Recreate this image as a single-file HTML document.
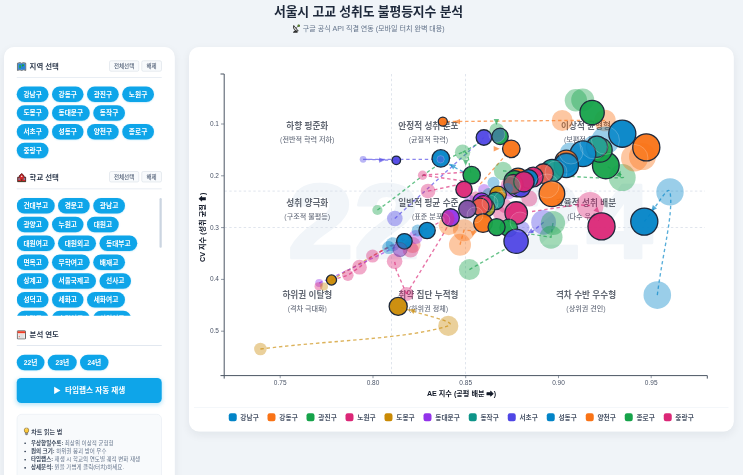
<!DOCTYPE html>
<html lang="ko">
<head>
<meta charset="utf-8">
<title>서울시 고교 성취도 불평등지수 분석</title>
<style>
*{box-sizing:border-box;margin:0;padding:0}
html,body{width:743px;height:475px;overflow:hidden;background:#f0f4f8}
body{font-family:"Liberation Sans","Noto Sans CJK KR","NanumGothic","DejaVu Sans",sans-serif;color:#1e293b;position:relative}
h1{position:absolute;left:0;width:2948px;top:0;height:88px;line-height:88px;text-align:center;font-size:51.4px;font-weight:700;letter-spacing:-0.52px;color:#1e293b}
.sub{position:absolute;left:0;width:2948px;top:94px;height:40px;line-height:40px;text-align:center;font-size:28.2px;color:#64748b}
#sc{position:absolute;left:0;top:0;width:2972px;height:1900px;transform:scale(.25);transform-origin:0 0}
#zm{position:relative;width:2972px;height:1900px}
.side{position:absolute;left:16px;top:188px;width:682.8px;height:1840px;background:#fff;border-radius:40px;box-shadow:0 12px 40px rgba(15,23,42,.065)}
.main{position:absolute;left:756px;top:188px;width:2178.8px;height:1538px;background:#fff;border-radius:40px;box-shadow:0 12px 40px rgba(15,23,42,.065)}
.hd{position:absolute;left:51.2px;right:52px;height:48px;border-bottom:0}
.hd b{position:absolute;left:0;top:0.8px;font-size:29.6px;line-height:48px;font-weight:700;color:#2f3b4e;white-space:nowrap}
.hd b em{font-style:normal;display:inline-block;width:51.2px;height:32px;position:relative;vertical-align:top}
.ic{position:absolute;display:block}
.info h4 em{font-style:normal;display:inline-block;width:30px;height:32px;position:relative;vertical-align:top}
.btn{position:absolute;top:0;height:44px;border:2.4px solid #d3dae3;border-radius:7.2px;background:#f8fafc;font-size:22px;line-height:39.2px;text-align:center;color:#526077;font-weight:500}
.sep{position:absolute;left:51.2px;right:52px;height:3.2px;background:#e2e8f0}
.rows{position:absolute;left:51.2px;width:584px}
.row{height:75.2px;white-space:nowrap;display:flex;gap:13.8px}
.chip{display:block;height:62px;line-height:62px;padding:0 26.4px;border-radius:32px;background:#0ea5e9;color:#fff;font-size:26.8px;font-weight:700;box-shadow:0 2px 6px rgba(14,165,233,.3)}
.scroll{position:absolute;left:51.2px;top:596px;width:584px;height:479.2px;overflow:hidden}
.thumb{position:absolute;left:621.6px;top:604px;width:9.2px;height:198.8px;border-radius:4.8px;background:#cbd5e1}
.play{position:absolute;left:51.2px;top:1324px;width:579.6px;height:99.6px;border-radius:18px;background:#0ea5e9;color:#fff;font-size:30.4px;font-weight:700;line-height:99.6px;text-align:center;box-shadow:0 6px 16px rgba(14,165,233,.3)}
.info{position:absolute;left:51.2px;top:1468px;width:579.6px;height:360px;border-radius:20px;background:#f8fafc;border:2.4px solid #e2e8f0}
.info h4{position:absolute;left:26px;top:50.8px;font-size:24px;line-height:36px;font-weight:700;color:#3f4a5c;white-space:nowrap}
.info ul{position:absolute;left:54.4px;top:98px;list-style:none}
.info li{font-size:22.12px;line-height:32.8px;color:#64748b;white-space:nowrap;position:relative}
.info li:before{content:"";position:absolute;left:-26.4px;top:14px;width:6.4px;height:6.4px;border-radius:50%;background:#334155}
.info li b{color:#334155}
.chart{position:absolute;left:0;top:0}
.chart text{font-family:"Liberation Sans","Noto Sans CJK KR","NanumGothic","DejaVu Sans",sans-serif}
.wm{font-size:105.4px;font-weight:700;fill:#f1f5f9;stroke:#f1f5f9;stroke-width:2.6px;stroke-linejoin:round}
.guide{stroke:#d8dee8;stroke-width:.8;stroke-dasharray:2.4 2.4}
.ql{font-size:8.6px;font-weight:700;fill:#626873}
.qs{font-size:7.1px;font-weight:500;fill:#6b7280}
.axis{fill:none;stroke:#4b5563;stroke-width:1}
.tick{stroke:#475569;stroke-width:.6}
.tl{font-size:6.5px;fill:#4b5568}
.at{font-size:7.15px;font-weight:700;fill:#111827}
.ar{stroke:#111827;stroke-width:.55px;stroke-linejoin:round}
.legend{position:absolute;left:776.4px;top:1628.8px;width:2137.2px;height:76px;border-top:2.4px solid #e8eef4;display:flex;justify-content:center;align-items:center;gap:35.2px;padding-top:1.6px}
.lg{display:flex;align-items:center;font-size:26.8px;font-weight:700;color:#4b5669;white-space:nowrap}
.lg i{display:block;width:32px;height:32px;border-radius:8.8px;margin-right:14.8px}
</style>
</head>
<body>
<div id="sc"><div id="zm">
<h1>서울시 고교 성취도 불평등지수 분석</h1>
<div class="sub"><svg class="ic" viewBox="0 0 20 22" style="position:static;display:inline-block;vertical-align:-9.6px;width:33.6px;height:37.2px;margin-right:8px"><path d="M1.500 21h11.500l-1.500-4.500H4z" fill="#2b2b2b"/><path d="M5 17l3.500-7 3 1.500-2.500 6z" fill="#444"/><path d="M3.500 3.500c-2 4.800.400 10.400 5.200 12.600 1.800.8 3.800 1 5.600.500z" fill="#cfcfcf" stroke="#262626" stroke-width="2" stroke-linejoin="round"/><path d="M9 9.800l5.200-5" stroke="#333" stroke-width="1.500"/><circle cx="15.400" cy="3.800" r="2.900" fill="#2f4f0f"/><circle cx="15.600" cy="3.600" r="1.400" fill="#6fae2c"/></svg>구글 공식 API 직결 연동 (모바일 터치 완벽 대응)</div>

<div class="side">
  <div class="hd" style="top:53.6px"><b><em><svg class="ic" viewBox="0 0 20 20" style="left:0;top:4.8px;width:39.2px;height:39.2px"><path d="M1.2 3.2 L6.6 1.8 L10 3.2 L13.4 1.8 L18.8 3.2 V17.6 L13.4 16.4 L10 17.8 L6.6 16.4 L1.2 17.6 Z" fill="#5aa6e6" stroke="#666" stroke-width="1.9" stroke-linejoin="round"/><path d="M3.4 4.6h13.2v10.8H3.4z" fill="#2583dc"/><path d="M5 7.5c1.5-2 3.5-1 3.2.8-.3 1.8 1 2.4.2 4.2-1 1.6-3.6.2-3.4-2z" fill="#1fae3c"/><path d="M10.5 6.2c2-1.2 4.5-.4 4.6 1.6-.4 1.6-2.4 1-3.2 2.4-.8-.8-1.8-2.4-1.4-4z" fill="#19a534"/><path d="M6.6 2.4v14M13.4 2.4v14" stroke="#5d7f9a" stroke-width=".6" opacity=".6"/></svg></em>지역 선택</b><span class="btn" style="left:370px;width:118.4px">전체선택</span><span class="btn" style="left:498.4px;width:81.2px">해제</span></div>
  <div class="sep" style="top:120.8px"></div>
  <div class="rows" style="top:157.6px">
<div class="row"><span class="chip">강남구</span><span class="chip">강동구</span><span class="chip">광진구</span><span class="chip">노원구</span></div>
<div class="row"><span class="chip">도봉구</span><span class="chip">동대문구</span><span class="chip">동작구</span></div>
<div class="row"><span class="chip">서초구</span><span class="chip">성동구</span><span class="chip">양천구</span><span class="chip">종로구</span></div>
<div class="row"><span class="chip">중랑구</span></div>
  </div>
  <div class="hd" style="top:496.8px"><b><em><svg class="ic" viewBox="0 0 20 20" style="left:0.8px;top:6.4px;width:37.6px;height:37.6px"><path d="M10 1 L15 6 V9 H18.6 V18.4 H1.4 V9 H5 V6 Z" fill="#d3262c" stroke="#2e1b19" stroke-width="1.7" stroke-linejoin="round"/><path d="M10 1.2 L15.4 6.4 H4.6 Z" fill="#a71d22"/><circle cx="10" cy="7" r="1.7" fill="#f6e9d8"/><rect x="8.6" y="12.6" width="2.8" height="5.4" fill="#6e3b1f"/><rect x="3.2" y="11.4" width="2.6" height="2.8" fill="#4cc3f3"/><rect x="14.2" y="11.4" width="2.6" height="2.8" fill="#4cc3f3"/><rect x="1" y="18" width="18" height="1.4" fill="#3f4a2a"/></svg></em>학교 선택</b><span class="btn" style="left:370px;width:118.4px">전체선택</span><span class="btn" style="left:498.4px;width:81.2px">해제</span></div>
  <div class="sep" style="top:566px"></div>
  <div class="scroll"><div style="padding-top:8px">
<div class="row"><span class="chip">건대부고</span><span class="chip">경문고</span><span class="chip">광남고</span></div>
<div class="row"><span class="chip">광양고</span><span class="chip">누원고</span><span class="chip">대원고</span></div>
<div class="row"><span class="chip">대원여고</span><span class="chip">대원외고</span><span class="chip">동대부고</span></div>
<div class="row"><span class="chip">면목고</span><span class="chip">무학여고</span><span class="chip">배재고</span></div>
<div class="row"><span class="chip">상계고</span><span class="chip">서울국제고</span><span class="chip">선사고</span></div>
<div class="row"><span class="chip">성덕고</span><span class="chip">세화고</span><span class="chip">세화여고</span></div>
<div class="row"><span class="chip">수락고</span><span class="chip">숙명여고</span><span class="chip">신일여고</span></div>
<div class="row"><span class="chip">양정고</span><span class="chip">영동고</span><span class="chip">용화여고</span></div>
  </div></div>
  <div class="thumb"></div>
  <div class="hd" style="top:1125.6px"><b><em><svg class="ic" viewBox="0 0 20 20" style="left:0;top:6.4px;width:37.2px;height:37.2px"><rect x="1" y="1" width="18" height="18" rx="1.6" fill="#f1f1f1" stroke="#4d4d4d" stroke-width="2"/><path d="M1.9 1.9h16.2v4.6H1.9z" fill="#ef3b24"/><path d="M1.9 6.5h16.2v1.2H1.9z" fill="#fbd2c8"/><path d="M4 9.6h12M4 12.4h12M4 15.2h12M7 8v9M10 8v9M13 8v9" stroke="#d4d4d4" stroke-width=".9"/><rect x="4.2" y="12.8" width="2.6" height="2" fill="#ef6b57"/></svg></em>분석 연도</b></div>
  <div class="sep" style="top:1192.4px"></div>
  <div class="rows" style="top:1230.8px"><div class="row"><span class="chip" style="width:110.4px;padding:0;text-align:center">22년</span><span class="chip" style="width:115.2px;padding:0;text-align:center">23년</span><span class="chip" style="width:113.6px;padding:0;text-align:center">24년</span></div></div>
  <div class="play">▶&nbsp; 타임랩스 자동 재생</div>
  <div class="info">
    <h4><em><svg class="ic" viewBox="0 0 14 20" style="left:0;top:1.2px;width:22px;height:31.6px"><path d="M7 1C3.4 1 1 3.6 1 6.8c0 2.2 1.2 3.6 2.2 4.8.6.8.8 1.6.8 2.6h6c0-1 .2-1.800.8-2.600C11.800 10.400 13 9 13 6.800 13 3.600 10.600 1 7 1z" fill="#fcc93c" stroke="#5f4a1c" stroke-width="1.6"/><path d="M4.6 4.400c.8-1 2-1.400 3-1.400" stroke="#fff3c0" stroke-width="1.2" fill="none" stroke-linecap="round"/><rect x="4" y="14.400" width="6" height="3.600" rx=".8" fill="#9aa0a6" stroke="#555" stroke-width=".9"/><rect x="5.200" y="18" width="3.600" height="1.500" rx=".6" fill="#555"/></svg></em>차트 읽는 법</h4>
    <ul>
      <li><b>우상향일수록:</b> 최상위 이상적 균형형</li>
      <li><b>원의 크기:</b> 하위권 붕괴 방어 우수</li>
      <li><b>타임랩스:</b> 재생 시 학교의 연도별 궤적 변화 재생</li>
      <li><b>상세분석:</b> 원을 가볍게 클릭(터치)하세요.</li>
    </ul>
  </div>
</div>

<div class="main"></div>
<svg class="chart" width="2972" height="1900" viewBox="0 0 743 475">
<text class="wm" transform="translate(287.6 257.6) scale(1.13 1)" x="0" y="0">22</text>
<text class="wm" transform="translate(469.5 250.5) scale(1.13 1)" x="0" y="0" text-anchor="middle">-</text>
<text class="wm" transform="translate(515 257.6) scale(1.13 1)" x="0" y="0">2<tspan dx="4.4">4</tspan></text>
<line x1="391.5" y1="74" x2="391.5" y2="375.5" class="guide"/>
<line x1="465.5" y1="74" x2="465.5" y2="375.5" class="guide"/>
<line x1="224.5" y1="191.1" x2="705" y2="191.1" class="guide"/>
<line x1="224.5" y1="227.5" x2="705" y2="227.5" class="guide"/>
<text class="ql" x="307.3" y="128.9" text-anchor="middle">하향 평준화</text>
<text class="qs" x="307.3" y="142.2" text-anchor="middle">(전반적 학력 저하)</text>
<text class="ql" x="428.4" y="128.9" text-anchor="middle">안정적 성취 분포</text>
<text class="qs" x="428.4" y="142.2" text-anchor="middle">(균질적 학력)</text>
<text class="ql" x="586" y="128.9" text-anchor="middle">이상적 균형형</text>
<text class="qs" x="583.6" y="142.2" text-anchor="middle">(보편적 우수)</text>
<text class="ql" x="307.3" y="205.79999999999998" text-anchor="middle">성취 양극화</text>
<text class="qs" x="307.3" y="219.1" text-anchor="middle">(구조적 불평등)</text>
<text class="ql" x="428.4" y="205.79999999999998" text-anchor="middle">일반적 평균 수준</text>
<text class="qs" x="428.4" y="219.1" text-anchor="middle">(표준 분포)</text>
<text class="ql" x="586" y="205.79999999999998" text-anchor="middle">효율적 성취 배분</text>
<text class="qs" x="583.6" y="219.1" text-anchor="middle">(다수 우수)</text>
<text class="ql" x="307.3" y="297.5" text-anchor="middle">하위권 이탈형</text>
<text class="qs" x="307.3" y="310.8" text-anchor="middle">(격차 극대화)</text>
<text class="ql" x="428.4" y="297.5" text-anchor="middle">취약 집단 누적형</text>
<text class="qs" x="428.4" y="310.8" text-anchor="middle">(하위권 정체)</text>
<text class="ql" x="586" y="297.5" text-anchor="middle">격차 수반 우수형</text>
<text class="qs" x="586" y="310.8" text-anchor="middle">(상위권 견인)</text>
<path class="axis" d="M220.5 74 H224.2 V375.6 M220.5 375.6 H707.3 V378.6 M224.2 375.6 V378.6"/>
<line class="tick" x1="221" y1="124.0" x2="224" y2="124.0"/>
<text class="tl" x="219" y="126.0" text-anchor="end">0.1</text>
<line class="tick" x1="221" y1="175.8" x2="224" y2="175.8"/>
<text class="tl" x="219" y="177.8" text-anchor="end">0.2</text>
<line class="tick" x1="221" y1="227.6" x2="224" y2="227.6"/>
<text class="tl" x="219" y="229.6" text-anchor="end">0.3</text>
<line class="tick" x1="221" y1="279.4" x2="224" y2="279.4"/>
<text class="tl" x="219" y="281.4" text-anchor="end">0.4</text>
<line class="tick" x1="221" y1="331.2" x2="224" y2="331.2"/>
<text class="tl" x="219" y="333.2" text-anchor="end">0.5</text>
<line class="tick" x1="280.2" y1="375.6" x2="280.2" y2="378.2"/>
<text class="tl" x="280.2" y="384.8" text-anchor="middle">0.75</text>
<line class="tick" x1="373.0" y1="375.6" x2="373.0" y2="378.2"/>
<text class="tl" x="373.0" y="384.8" text-anchor="middle">0.80</text>
<line class="tick" x1="465.7" y1="375.6" x2="465.7" y2="378.2"/>
<text class="tl" x="465.7" y="384.8" text-anchor="middle">0.85</text>
<line class="tick" x1="558.5" y1="375.6" x2="558.5" y2="378.2"/>
<text class="tl" x="558.5" y="384.8" text-anchor="middle">0.90</text>
<line class="tick" x1="651.2" y1="375.6" x2="651.2" y2="378.2"/>
<text class="tl" x="651.2" y="384.8" text-anchor="middle">0.95</text>
<text class="at" x="461.5" y="396.3" text-anchor="middle">AE 지수 (공평 배분 <tspan class="ar">➡</tspan>)</text>
<text class="at" transform="translate(205.4 227.3) rotate(-90)" text-anchor="middle">CV 지수 (성취 균질 <tspan class="ar">⬆</tspan>)</text>
<g class="bub">
<defs><clipPath id="solidclip"><circle cx="398.2" cy="306.4" r="8.50"/><circle cx="331.5" cy="280" r="4.50"/><circle cx="396.3" cy="160.3" r="3.70"/><circle cx="440.8" cy="158.4" r="8.20"/><circle cx="442.8" cy="121.6" r="4.00"/><circle cx="592.1" cy="112.5" r="11.60"/><circle cx="500.1" cy="136.4" r="7.60"/><circle cx="483.9" cy="137.5" r="7.20"/><circle cx="511.3" cy="148.8" r="8.20"/><circle cx="471.7" cy="175.1" r="8.10"/><circle cx="464" cy="189.4" r="7.60"/><circle cx="622.3" cy="133.7" r="13.00"/><circle cx="646.3" cy="147.4" r="13.00"/><circle cx="605.8" cy="165.4" r="12.80"/><circle cx="600" cy="150" r="11.60"/><circle cx="597" cy="146.8" r="10.10"/><circle cx="583" cy="153.8" r="12.30"/><circle cx="566.3" cy="161.4" r="10.80"/><circle cx="566.3" cy="165.4" r="11.60"/><circle cx="518" cy="178.3" r="9.60"/><circle cx="514.5" cy="181" r="9.80"/><circle cx="517" cy="186.8" r="9.40"/><circle cx="521" cy="187.5" r="9.00"/><circle cx="552.1" cy="170.8" r="10.80"/><circle cx="543.5" cy="173.6" r="9.30"/><circle cx="533.3" cy="177" r="9.30"/><circle cx="528.6" cy="179" r="8.80"/><circle cx="513.5" cy="184" r="9.10"/><circle cx="523.9" cy="181.7" r="9.60"/><circle cx="551.9" cy="193.8" r="12.30"/><circle cx="516.2" cy="213" r="10.70"/><circle cx="498" cy="194.5" r="7.80"/><circle cx="495.6" cy="200.8" r="8.20"/><circle cx="481.5" cy="201.5" r="8.10"/><circle cx="486" cy="208" r="8.40"/><circle cx="483.5" cy="204.3" r="8.20"/><circle cx="480.3" cy="206.8" r="8.20"/><circle cx="467.4" cy="209" r="8.20"/><circle cx="450.6" cy="217.5" r="8.20"/><circle cx="483" cy="223.1" r="8.80"/><circle cx="508.7" cy="227.8" r="8.20"/><circle cx="496.6" cy="227.1" r="8.00"/><circle cx="516.1" cy="241.3" r="11.60"/><circle cx="427.1" cy="230.5" r="7.60"/><circle cx="404.4" cy="241.3" r="7.20"/><circle cx="601.5" cy="226.4" r="13.00"/><circle cx="644.3" cy="221.6" r="13.00"/></clipPath></defs>
<path d="M260.4 349.0 C335.6 339.8 405.4 339.2 448.3 325.9 C460.5 322.1 418.2 314.2 398.2 306.4" fill="none" stroke="#ca8a04" stroke-opacity="0.66" stroke-width="1.35" stroke-dasharray="3.4 2.8"/>
<path d="M331.5 280.0 L388.0 247.0" fill="none" stroke="#ca8a04" stroke-opacity="0.66" stroke-width="1.35" stroke-dasharray="3.4 2.8"/>
<path d="M440.6 159.3 L363.1 159.3 L396.3 160.3" fill="none" stroke="#4f46e5" stroke-opacity="0.66" stroke-width="1.35" stroke-dasharray="3.4 2.8"/>
<path d="M604.9 120.5 L562.2 120.5 L442.8 121.6" fill="none" stroke="#f97316" stroke-opacity="0.66" stroke-width="1.35" stroke-dasharray="3.4 2.8"/>
<path d="M394.8 218.5 L483.9 137.5" fill="none" stroke="#4f46e5" stroke-opacity="0.66" stroke-width="1.35" stroke-dasharray="3.4 2.8"/>
<path d="M377.4 210.0 C411.5 186.9 432.1 163.6 462.6 152.3 C469.9 149.6 468.1 166.0 471.7 175.1" fill="none" stroke="#16a34a" stroke-opacity="0.66" stroke-width="1.35" stroke-dasharray="3.4 2.8"/>
<path d="M462.6 152.3 L483.0 141.0" fill="none" stroke="#16a34a" stroke-opacity="0.66" stroke-width="1.35" stroke-dasharray="3.4 2.8"/>
<path d="M422.6 175.2 L464.0 172.2" fill="none" stroke="#db2777" stroke-opacity="0.66" stroke-width="1.35" stroke-dasharray="3.4 2.8"/>
<path d="M422.6 175.2 L464.0 181.0" fill="none" stroke="#db2777" stroke-opacity="0.66" stroke-width="1.35" stroke-dasharray="3.4 2.8"/>
<path d="M428.0 191.1 L466.0 183.0" fill="none" stroke="#db2777" stroke-opacity="0.66" stroke-width="1.35" stroke-dasharray="3.4 2.8"/>
<path d="M657.3 295.1 C662.4 253.8 673.8 213.2 670.0 191.9 C668.6 183.8 654.6 209.7 644.3 221.6" fill="none" stroke="#0284c7" stroke-opacity="0.66" stroke-width="1.35" stroke-dasharray="3.4 2.8"/>
<path d="M469.4 269.6 L508.7 247.0" fill="none" stroke="#16a34a" stroke-opacity="0.66" stroke-width="1.35" stroke-dasharray="3.4 2.8"/>
<path d="M503.0 170.9 C550.7 173.6 587.1 179.5 622.2 177.6 C628.2 177.3 612.4 170.3 605.8 165.4" fill="none" stroke="#16a34a" stroke-opacity="0.66" stroke-width="1.35" stroke-dasharray="3.4 2.8"/>
<path d="M406.5 294.0 L396.2 270.0 L394.6 261.3" fill="none" stroke="#db2777" stroke-opacity="0.66" stroke-width="1.35" stroke-dasharray="3.4 2.8"/>
<path d="M406.5 294.0 L440.6 238.7 L450.0 222.0" fill="none" stroke="#db2777" stroke-opacity="0.66" stroke-width="1.35" stroke-dasharray="3.4 2.8"/>
<path d="M331.5 280.0 L347.9 275.3 L359.5 267.2 L372.6 256.1 L404.0 238.0" fill="none" stroke="#db2777" stroke-opacity="0.66" stroke-width="1.35" stroke-dasharray="3.4 2.8"/>
<path d="M319.2 283.0 L331.5 278.0 L399.8 245.0" fill="none" stroke="#9333ea" stroke-opacity="0.66" stroke-width="1.35" stroke-dasharray="3.4 2.8"/>
<path d="M380.0 252.0 L440.0 222.0" fill="none" stroke="#db2777" stroke-opacity="0.66" stroke-width="1.35" stroke-dasharray="3.4 2.8"/>
<path d="M532.0 211.5 L576.6 204.8 L590.1 205.5" fill="none" stroke="#db2777" stroke-opacity="0.66" stroke-width="1.35" stroke-dasharray="3.4 2.8"/>
<path d="M511.0 149.0 L484.8 179.0 L478.0 186.4" fill="none" stroke="#f97316" stroke-opacity="0.66" stroke-width="1.35" stroke-dasharray="3.4 2.8"/>
<path d="M463.0 171.6 L448.0 164.0" fill="none" stroke="#0284c7" stroke-opacity="0.66" stroke-width="1.35" stroke-dasharray="3.4 2.8"/>
<path d="M460.0 244.7 L464.0 230.2 L476.0 231.0" fill="none" stroke="#f97316" stroke-opacity="0.66" stroke-width="1.35" stroke-dasharray="3.4 2.8"/>
<path d="M543.6 222.3 L527.0 236.0" fill="none" stroke="#4f46e5" stroke-opacity="0.66" stroke-width="1.35" stroke-dasharray="3.4 2.8"/>
<path d="M553.0 223.0 L551.0 237.2 L530.0 234.0" fill="none" stroke="#16a34a" stroke-opacity="0.66" stroke-width="1.35" stroke-dasharray="3.4 2.8"/>
<circle cx="260.4" cy="349" r="6.3" fill="#ca8a04" fill-opacity="0.4"/>
<circle cx="448.3" cy="325.9" r="10.1" fill="#ca8a04" fill-opacity="0.4"/>
<circle cx="363.1" cy="159.3" r="3.4" fill="#4f46e5" fill-opacity="0.4"/>
<circle cx="562.2" cy="120.5" r="10.5" fill="#f97316" fill-opacity="0.4"/>
<circle cx="604.9" cy="120.5" r="10.8" fill="#f97316" fill-opacity="0.4"/>
<circle cx="575.9" cy="100.3" r="11.2" fill="#16a34a" fill-opacity="0.4"/>
<circle cx="582.7" cy="99.9" r="11.5" fill="#16a34a" fill-opacity="0.4"/>
<circle cx="496.7" cy="130.3" r="7.4" fill="#16a34a" fill-opacity="0.4"/>
<circle cx="462.6" cy="152.3" r="7.7" fill="#16a34a" fill-opacity="0.4"/>
<circle cx="377.4" cy="210" r="5.1" fill="#16a34a" fill-opacity="0.4"/>
<circle cx="422.6" cy="175.2" r="4.7" fill="#db2777" fill-opacity="0.4"/>
<circle cx="428" cy="191.1" r="7.4" fill="#db2777" fill-opacity="0.4"/>
<circle cx="503" cy="170.9" r="9.2" fill="#16a34a" fill-opacity="0.4"/>
<circle cx="590.1" cy="205.5" r="13.5" fill="#db2777" fill-opacity="0.4"/>
<circle cx="543.6" cy="222.3" r="12.4" fill="#4f46e5" fill-opacity="0.4"/>
<circle cx="553" cy="223" r="12.1" fill="#16a34a" fill-opacity="0.4"/>
<circle cx="551" cy="237.2" r="11.5" fill="#16a34a" fill-opacity="0.4"/>
<circle cx="622.2" cy="177.6" r="13.5" fill="#16a34a" fill-opacity="0.4"/>
<circle cx="670" cy="191.9" r="13.7" fill="#0284c7" fill-opacity="0.4"/>
<circle cx="657.3" cy="295.1" r="13.8" fill="#0284c7" fill-opacity="0.4"/>
<circle cx="634.5" cy="158" r="13.5" fill="#f97316" fill-opacity="0.4"/>
<circle cx="642.5" cy="156.6" r="13.5" fill="#f97316" fill-opacity="0.4"/>
<circle cx="460" cy="244.7" r="11" fill="#f97316" fill-opacity="0.4"/>
<circle cx="464" cy="230.2" r="11" fill="#f97316" fill-opacity="0.4"/>
<circle cx="469.4" cy="269.6" r="10.5" fill="#16a34a" fill-opacity="0.4"/>
<circle cx="406.5" cy="294" r="7" fill="#db2777" fill-opacity="0.4"/>
<circle cx="394.6" cy="261.3" r="7.8" fill="#db2777" fill-opacity="0.4"/>
<circle cx="347.9" cy="275.3" r="5.7" fill="#db2777" fill-opacity="0.4"/>
<circle cx="359.5" cy="267.2" r="7.4" fill="#db2777" fill-opacity="0.4"/>
<circle cx="372.6" cy="256.1" r="6.5" fill="#db2777" fill-opacity="0.4"/>
<circle cx="388.7" cy="247.6" r="6.5" fill="#0284c7" fill-opacity="0.4"/>
<circle cx="392.8" cy="244.3" r="7" fill="#0284c7" fill-opacity="0.4"/>
<circle cx="399.8" cy="249.6" r="7.5" fill="#9333ea" fill-opacity="0.4"/>
<circle cx="394.8" cy="218.5" r="7.8" fill="#4f46e5" fill-opacity="0.4"/>
<circle cx="412.6" cy="245" r="8" fill="#ea5a4a" fill-opacity="0.4"/>
<circle cx="410.6" cy="249.6" r="8" fill="#db2777" fill-opacity="0.4"/>
<circle cx="415.7" cy="237" r="7" fill="#9333ea" fill-opacity="0.4"/>
<circle cx="417.7" cy="230.6" r="6" fill="#0284c7" fill-opacity="0.4"/>
<circle cx="319.2" cy="283" r="4" fill="#9333ea" fill-opacity="0.4"/>
<circle cx="318.5" cy="286.3" r="4" fill="#db2777" fill-opacity="0.4"/>
<circle cx="324" cy="286.5" r="4" fill="#ca8a04" fill-opacity="0.4"/>
<circle cx="529.3" cy="198.5" r="8" fill="#db2777" fill-opacity="0.4"/>
<circle cx="523" cy="228" r="6.5" fill="#4f46e5" fill-opacity="0.4"/>
<circle cx="605.5" cy="140.4" r="14" fill="#0284c7" fill-opacity="0.4"/>
<circle cx="595" cy="149.8" r="14.5" fill="#0284c7" fill-opacity="0.4"/>
<circle cx="570.5" cy="153.1" r="10.7" fill="#0284c7" fill-opacity="0.4"/>
<circle cx="510.4" cy="186.4" r="10" fill="#db2777" fill-opacity="0.4"/>
<circle cx="448.7" cy="225.2" r="10" fill="#f97316" fill-opacity="0.4"/>
<circle cx="515" cy="185" r="10.5" fill="#16a34a" fill-opacity="0.4"/>
<circle cx="508" cy="191" r="8.5" fill="#9333ea" fill-opacity="0.4"/>
<circle cx="493.5" cy="182.7" r="6" fill="#0284c7" fill-opacity="0.4"/>
<circle cx="500" cy="213.7" r="7" fill="#db2777" fill-opacity="0.4"/>
<circle cx="484" cy="190" r="6" fill="#9333ea" fill-opacity="0.4"/>
<circle cx="505" cy="206" r="7" fill="#db2777" fill-opacity="0.4"/>
<circle cx="489" cy="195" r="7" fill="#0d9488" fill-opacity="0.4"/>
<circle cx="476" cy="198" r="6.5" fill="#db2777" fill-opacity="0.4"/>
<circle cx="470" cy="201" r="6" fill="#9333ea" fill-opacity="0.4"/>
<path d="M3 0 L-3 -2.7 L-3 2.7 Z" transform="translate(411.7 310.4) rotate(201)" fill="#ca8a04" fill-opacity="0.66"/>
<path d="M3 0 L-3 -2.7 L-3 2.7 Z" transform="translate(382.1 160.1) rotate(0)" fill="#4f46e5" fill-opacity="0.66"/>
<path d="M3 0 L-3 -2.7 L-3 2.7 Z" transform="translate(457 121.6) rotate(180)" fill="#f97316" fill-opacity="0.66"/>
<path d="M3 0 L-3 -2.7 L-3 2.7 Z" transform="translate(496.7 148.8) rotate(0)" fill="#f97316" fill-opacity="0.66"/>
<path d="M3 0 L-3 -2.7 L-3 2.7 Z" transform="translate(496.4 122) rotate(90)" fill="#16a34a" fill-opacity="0.66"/>
<path d="M3 0 L-3 -2.7 L-3 2.7 Z" transform="translate(465.7 162.8) rotate(90)" fill="#16a34a" fill-opacity="0.66"/>
<path d="M3 0 L-3 -2.7 L-3 2.7 Z" transform="translate(452.2 165.5) rotate(215)" fill="#0284c7" fill-opacity="0.66"/>
<path d="M3 0 L-3 -2.7 L-3 2.7 Z" transform="translate(653 209) rotate(130)" fill="#0284c7" fill-opacity="0.66"/>
<path d="M3 0 L-3 -2.7 L-3 2.7 Z" transform="translate(597.5 210.9) rotate(45)" fill="#db2777" fill-opacity="0.66"/>
<path d="M3 0 L-3 -2.7 L-3 2.7 Z" transform="translate(474.4 232.5) rotate(-20)" fill="#f97316" fill-opacity="0.66"/>
<path d="M3 0 L-3 -2.7 L-3 2.7 Z" transform="translate(619.5 173.5) rotate(-70)" fill="#16a34a" fill-opacity="0.66"/>
<path d="M3 0 L-3 -2.7 L-3 2.7 Z" transform="translate(530 232) rotate(150)" fill="#4f46e5" fill-opacity="0.66"/>
<circle cx="398.2" cy="306.4" r="9.05" fill="#ca8a04" fill-opacity=".95" stroke="#1e293b" stroke-width="1.3"/>
<circle cx="331.5" cy="280" r="5.05" fill="#ca8a04" fill-opacity=".95" stroke="#1e293b" stroke-width="1.3"/>
<circle cx="396.3" cy="160.3" r="4.25" fill="#4f46e5" fill-opacity=".95" stroke="#1e293b" stroke-width="1.3"/>
<circle cx="440.8" cy="158.4" r="8.75" fill="#0284c7" fill-opacity=".95" stroke="#1e293b" stroke-width="1.3"/>
<circle cx="442.8" cy="121.6" r="4.55" fill="#f97316" fill-opacity=".95" stroke="#1e293b" stroke-width="1.3"/>
<circle cx="592.1" cy="112.5" r="12.15" fill="#16a34a" fill-opacity=".95" stroke="#1e293b" stroke-width="1.3"/>
<circle cx="500.1" cy="136.4" r="8.15" fill="#16a34a" fill-opacity=".95" stroke="#1e293b" stroke-width="1.3"/>
<circle cx="483.9" cy="137.5" r="7.75" fill="#4f46e5" fill-opacity=".95" stroke="#1e293b" stroke-width="1.3"/>
<circle cx="511.3" cy="148.8" r="8.75" fill="#f97316" fill-opacity=".95" stroke="#1e293b" stroke-width="1.3"/>
<circle cx="471.7" cy="175.1" r="8.65" fill="#16a34a" fill-opacity=".95" stroke="#1e293b" stroke-width="1.3"/>
<circle cx="464" cy="189.4" r="8.15" fill="#db2777" fill-opacity=".95" stroke="#1e293b" stroke-width="1.3"/>
<circle cx="622.3" cy="133.7" r="13.55" fill="#0284c7" fill-opacity=".95" stroke="#1e293b" stroke-width="1.3"/>
<circle cx="646.3" cy="147.4" r="13.55" fill="#f97316" fill-opacity=".95" stroke="#1e293b" stroke-width="1.3"/>
<circle cx="605.8" cy="165.4" r="13.35" fill="#16a34a" fill-opacity=".95" stroke="#1e293b" stroke-width="1.3"/>
<circle cx="600" cy="150" r="12.15" fill="#16a34a" fill-opacity=".95" stroke="#1e293b" stroke-width="1.3"/>
<circle cx="597" cy="146.8" r="10.65" fill="#0d9488" fill-opacity=".95" stroke="#1e293b" stroke-width="1.3"/>
<circle cx="583" cy="153.8" r="12.85" fill="#0284c7" fill-opacity=".95" stroke="#1e293b" stroke-width="1.3"/>
<circle cx="566.3" cy="161.4" r="11.35" fill="#f97316" fill-opacity=".95" stroke="#1e293b" stroke-width="1.3"/>
<circle cx="566.3" cy="165.4" r="12.15" fill="#0284c7" fill-opacity=".95" stroke="#1e293b" stroke-width="1.3"/>
<circle cx="518" cy="178.3" r="10.15" fill="#f97316" fill-opacity=".95" stroke="#1e293b" stroke-width="1.3"/>
<circle cx="514.5" cy="181" r="10.35" fill="#16a34a" fill-opacity=".95" stroke="#1e293b" stroke-width="1.3"/>
<circle cx="517" cy="186.8" r="9.95" fill="#9333ea" fill-opacity=".95" stroke="#1e293b" stroke-width="1.3"/>
<circle cx="521" cy="187.5" r="9.55" fill="#4f46e5" fill-opacity=".95" stroke="#1e293b" stroke-width="1.3"/>
<circle cx="552.1" cy="170.8" r="11.35" fill="#0d9488" fill-opacity=".95" stroke="#1e293b" stroke-width="1.3"/>
<circle cx="543.5" cy="173.6" r="9.85" fill="#ea5a4a" fill-opacity=".95" stroke="#1e293b" stroke-width="1.3"/>
<circle cx="533.3" cy="177" r="9.85" fill="#db2777" fill-opacity=".95" stroke="#1e293b" stroke-width="1.3"/>
<circle cx="528.6" cy="179" r="9.35" fill="#0284c7" fill-opacity=".95" stroke="#1e293b" stroke-width="1.3"/>
<circle cx="513.5" cy="184" r="9.65" fill="#db2777" fill-opacity=".95" stroke="#1e293b" stroke-width="1.3"/>
<circle cx="523.9" cy="181.7" r="10.15" fill="#db2777" fill-opacity=".95" stroke="#1e293b" stroke-width="1.3"/>
<circle cx="551.9" cy="193.8" r="12.85" fill="#f97316" fill-opacity=".95" stroke="#1e293b" stroke-width="1.3"/>
<circle cx="516.2" cy="213" r="11.25" fill="#db2777" fill-opacity=".95" stroke="#1e293b" stroke-width="1.3"/>
<circle cx="498" cy="194.5" r="8.35" fill="#ca8a04" fill-opacity=".95" stroke="#1e293b" stroke-width="1.3"/>
<circle cx="495.6" cy="200.8" r="8.75" fill="#0d9488" fill-opacity=".95" stroke="#1e293b" stroke-width="1.3"/>
<circle cx="481.5" cy="201.5" r="8.65" fill="#9333ea" fill-opacity=".95" stroke="#1e293b" stroke-width="1.3"/>
<circle cx="486" cy="208" r="8.95" fill="#9c9a22" fill-opacity=".95" stroke="#1e293b" stroke-width="1.3"/>
<circle cx="483.5" cy="204.3" r="8.75" fill="#db2777" fill-opacity=".95" stroke="#1e293b" stroke-width="1.3"/>
<circle cx="480.3" cy="206.8" r="8.75" fill="#ea5a4a" fill-opacity=".95" stroke="#1e293b" stroke-width="1.3"/>
<circle cx="467.4" cy="209" r="8.75" fill="#7e4fa3" fill-opacity=".95" stroke="#1e293b" stroke-width="1.3"/>
<circle cx="450.6" cy="217.5" r="8.75" fill="#9333ea" fill-opacity=".95" stroke="#1e293b" stroke-width="1.3"/>
<circle cx="483" cy="223.1" r="9.35" fill="#f97316" fill-opacity=".95" stroke="#1e293b" stroke-width="1.3"/>
<circle cx="508.7" cy="227.8" r="8.75" fill="#16a34a" fill-opacity=".95" stroke="#1e293b" stroke-width="1.3"/>
<circle cx="496.6" cy="227.1" r="8.55" fill="#16a34a" fill-opacity=".95" stroke="#1e293b" stroke-width="1.3"/>
<circle cx="516.1" cy="241.3" r="12.15" fill="#4f46e5" fill-opacity=".95" stroke="#1e293b" stroke-width="1.3"/>
<circle cx="427.1" cy="230.5" r="8.15" fill="#0284c7" fill-opacity=".95" stroke="#1e293b" stroke-width="1.3"/>
<circle cx="404.4" cy="241.3" r="7.75" fill="#0284c7" fill-opacity=".95" stroke="#1e293b" stroke-width="1.3"/>
<circle cx="601.5" cy="226.4" r="13.55" fill="#db2777" fill-opacity=".95" stroke="#1e293b" stroke-width="1.3"/>
<circle cx="644.3" cy="221.6" r="13.55" fill="#0284c7" fill-opacity=".95" stroke="#1e293b" stroke-width="1.3"/>
<circle cx="400.2" cy="249.5" r="7" fill="#7e4fa3" fill-opacity=".3" stroke="#475569" stroke-opacity=".45" stroke-width=".8"/>
<g clip-path="url(#solidclip)">
<circle cx="497" cy="134.4" r="8" fill="#4f46e5" fill-opacity=".42"/>
<circle cx="440.6" cy="159.3" r="3.7" fill="#4f46e5" fill-opacity=".42"/>
<circle cx="510.5" cy="184.5" r="9.6" fill="#16a34a" fill-opacity=".42"/>
<circle cx="507.6" cy="188.4" r="5.4" fill="#0284c7" fill-opacity=".42"/>
<circle cx="443.3" cy="219.8" r="6.5" fill="#db2777" fill-opacity=".42"/>
<circle cx="439.5" cy="220.5" r="5" fill="#db2777" fill-opacity=".42"/>
<circle cx="446.5" cy="218.5" r="8" fill="#db2777" fill-opacity=".42"/>
<circle cx="440.6" cy="159.3" r="3.7" fill="#fff" fill-opacity=".06" stroke="#fff" stroke-opacity=".38" stroke-width=".55"/>
<circle cx="497" cy="134.4" r="8" fill="#fff" fill-opacity=".06" stroke="#fff" stroke-opacity=".38" stroke-width=".55"/>
<circle cx="443.3" cy="219.8" r="6.5" fill="#fff" fill-opacity=".06" stroke="#fff" stroke-opacity=".38" stroke-width=".55"/>
<circle cx="439.3" cy="220.5" r="5" fill="#fff" fill-opacity=".06" stroke="#fff" stroke-opacity=".38" stroke-width=".55"/>
<circle cx="605.5" cy="140.4" r="14" fill="#fff" fill-opacity=".06" stroke="#fff" stroke-opacity=".38" stroke-width=".55"/>
<circle cx="634.5" cy="158" r="13.5" fill="#fff" fill-opacity=".06" stroke="#fff" stroke-opacity=".38" stroke-width=".55"/>
<circle cx="571" cy="152" r="12" fill="#fff" fill-opacity=".06" stroke="#fff" stroke-opacity=".38" stroke-width=".55"/>
<circle cx="594" cy="145" r="14" fill="#fff" fill-opacity=".06" stroke="#fff" stroke-opacity=".38" stroke-width=".55"/>
<circle cx="510.4" cy="186.4" r="10" fill="#fff" fill-opacity=".06" stroke="#fff" stroke-opacity=".38" stroke-width=".55"/>
<circle cx="556" cy="172" r="11" fill="#fff" fill-opacity=".06" stroke="#fff" stroke-opacity=".38" stroke-width=".55"/>
<circle cx="547" cy="186" r="12" fill="#fff" fill-opacity=".06" stroke="#fff" stroke-opacity=".38" stroke-width=".55"/>
<circle cx="490" cy="203" r="8" fill="#fff" fill-opacity=".06" stroke="#fff" stroke-opacity=".38" stroke-width=".55"/>
<circle cx="503" cy="200" r="9" fill="#fff" fill-opacity=".06" stroke="#fff" stroke-opacity=".38" stroke-width=".55"/>
<circle cx="520" cy="222" r="10" fill="#fff" fill-opacity=".06" stroke="#fff" stroke-opacity=".38" stroke-width=".55"/>
<circle cx="475" cy="215" r="8" fill="#fff" fill-opacity=".06" stroke="#fff" stroke-opacity=".38" stroke-width=".55"/>
</g>
</g>
</svg>
<div class="legend"><span class="lg"><i style="background:#0284c7"></i>강남구</span><span class="lg"><i style="background:#f97316"></i>강동구</span><span class="lg"><i style="background:#16a34a"></i>광진구</span><span class="lg"><i style="background:#db2777"></i>노원구</span><span class="lg"><i style="background:#ca8a04"></i>도봉구</span><span class="lg"><i style="background:#9333ea"></i>동대문구</span><span class="lg"><i style="background:#0d9488"></i>동작구</span><span class="lg"><i style="background:#4f46e5"></i>서초구</span><span class="lg"><i style="background:#0284c7"></i>성동구</span><span class="lg"><i style="background:#f97316"></i>양천구</span><span class="lg"><i style="background:#16a34a"></i>종로구</span><span class="lg"><i style="background:#db2777"></i>중랑구</span></div>
</div></div>
</body>
</html>
